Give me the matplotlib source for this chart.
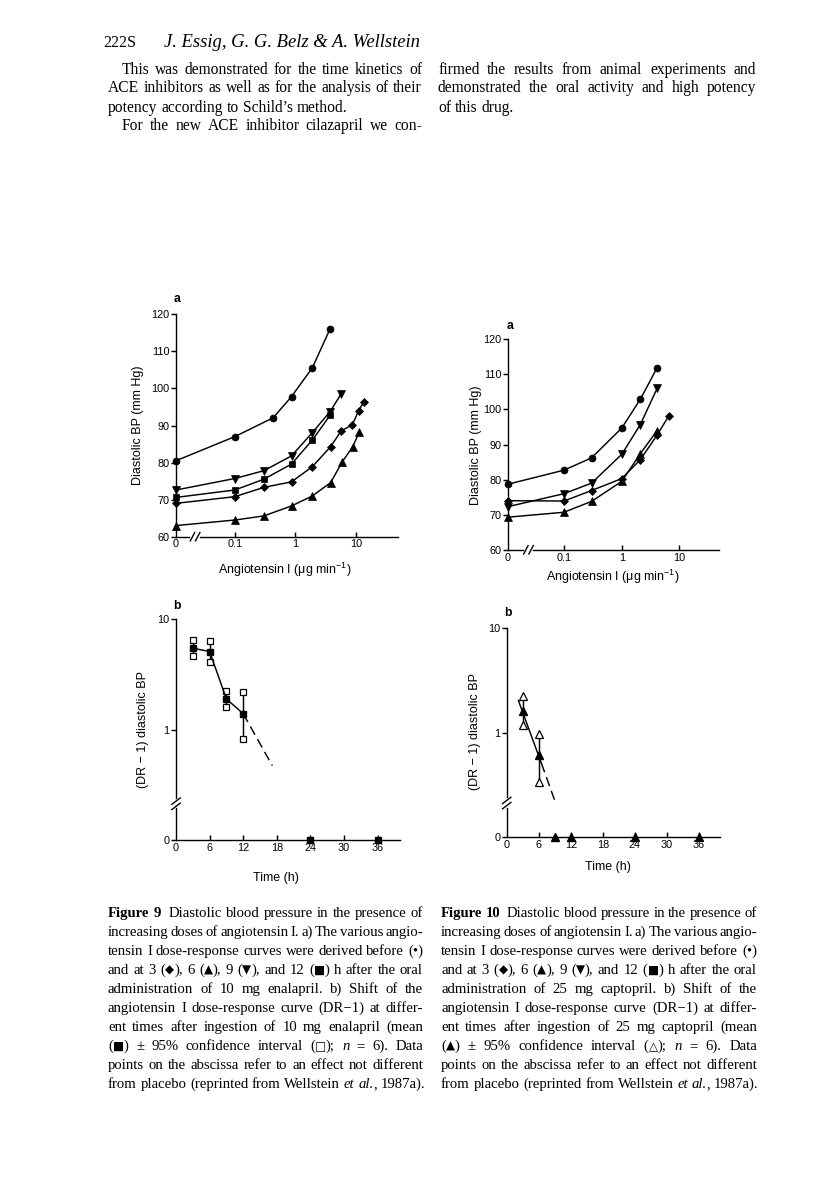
import re
import numpy as np
import matplotlib
matplotlib.use("Agg")
import matplotlib.pyplot as plt
from matplotlib.lines import Line2D
from matplotlib.ticker import NullLocator
from matplotlib.transforms import IdentityTransform
from matplotlib.font_manager import FontProperties

# ---------------------------------------------------------------- data
# Figure 9a (enalapril): angiotensin I dose (ug/min) vs diastolic BP (mm Hg)
f9a_before_dose = [0, 0.1, 0.43, 0.86, 1.9, 3.7]
f9a_before_bp = [80.5, 87.0, 92.1, 97.8, 105.6, 116.0]
f9a_3h_dose = [0, 0.1, 0.3, 0.86, 1.9, 3.8, 5.7, 8.6, 11.0, 13.3]
f9a_3h_bp = [69.0, 70.8, 73.3, 74.8, 78.9, 84.3, 88.6, 90.1, 94.0, 96.3]
f9a_6h_dose = [0, 0.1, 0.3, 0.86, 1.9, 3.8, 5.9, 8.8, 11.3]
f9a_6h_bp = [63.0, 64.5, 65.6, 68.3, 71.0, 74.6, 80.2, 84.3, 88.3]
f9a_9h_dose = [0, 0.1, 0.3, 0.86, 1.9, 3.7, 5.7]
f9a_9h_bp = [72.6, 75.7, 77.8, 81.8, 88.1, 93.7, 98.6]
f9a_12h_dose = [0, 0.1, 0.3, 0.86, 1.9, 3.7]
f9a_12h_bp = [70.6, 72.6, 75.5, 79.6, 86.1, 92.7]

# Figure 10a (captopril)
f10a_before_dose = [0, 0.1, 0.3, 1.0, 2.1, 4.1]
f10a_before_bp = [78.7, 82.7, 86.2, 94.7, 102.9, 111.9]
f10a_3h_dose = [0, 0.1, 0.3, 1.0, 2.1, 4.1, 6.5]
f10a_3h_bp = [74.0, 73.9, 76.9, 80.3, 85.7, 92.7, 98.1]
f10a_6h_dose = [0, 0.1, 0.3, 1.0, 2.1, 4.1]
f10a_6h_bp = [69.3, 70.7, 73.8, 79.5, 87.4, 94.0]
f10a_9h_dose = [0, 0.1, 0.3, 1.0, 2.1, 4.1]
f10a_9h_bp = [72.3, 76.0, 79.0, 87.2, 95.7, 106.0]

# Figure 9b: (DR-1) vs time after enalapril
f9b_time = [3, 6, 9, 12]
f9b_mean = [5.44, 5.08, 1.89, 1.39]
f9b_ci_low = [4.58, 4.07, 1.59, 0.82]
f9b_ci_high = [6.47, 6.34, 2.21, 2.20]
f9b_extrap_time = [12, 17.2]
f9b_extrap_val = [1.39, 0.47]
f9b_null_time = [24, 36]
f9b_null_val = [0, 0]

# Figure 10b: (DR-1) vs time after captopril
f10b_time = [3, 6]
f10b_mean = [1.61, 0.61]
f10b_ci_low = [1.18, 0.34]
f10b_ci_high = [2.25, 0.97]
f10b_fit_time = [2.2, 6.5]
f10b_fit_val = [2.03, 0.51]
f10b_extrap_time = [6.5, 9.2]
f10b_extrap_val = [0.51, 0.21]
f10b_null_time = [9, 12, 24, 36]
f10b_null_val = [0, 0, 0, 0]

# axis ticks
BP_TICKS = [60, 70, 80, 90, 100, 110, 120]
DOSE_TICKS = [0, 0.1, 1, 10]
DOSE_TICK_LABELS = ["0", "0.1", "1", "10"]
TIME_TICKS = [0, 6, 12, 18, 24, 30, 36]
DR_TICKS = [0, 1, 10]
DR_TICK_LABELS = ["0", "1", "10"]

# page text
HEADER_NUM = "222S"
HEADER_AUTHORS = "J. Essig, G. G. Belz & A. Wellstein"
BODY_LEFT = [
    "This was demonstrated for the time kinetics of",
    "ACE inhibitors as well as for the analysis of their",
    "potency according to Schild\u2019s method.",
    "For the new ACE inhibitor cilazapril we con-",
]
BODY_RIGHT = [
    "firmed the results from animal experiments and",
    "demonstrated the oral activity and high potency",
    "of this drug.",
]
CAPTION_9 = [
    "**Figure 9**  Diastolic blood pressure in the presence of",
    "increasing doses of angiotensin I. a) The various angio-",
    "tensin I dose-response curves were derived before (\u2022)",
    "and at 3 (\u25c6), 6 (\u25b2), 9 (\u25bc), and 12 (\u25a0) h after the oral",
    "administration of 10 mg enalapril. b) Shift of the",
    "angiotensin I dose-response curve (DR\u22121) at differ-",
    "ent times after ingestion of 10 mg enalapril (mean",
    "(\u25a0) \u00b1 95% confidence interval (\u25a1); _n_ = 6). Data",
    "points on the abscissa refer to an effect not different",
    "from placebo (reprinted from Wellstein _et al._, 1987a).",
]
CAPTION_10 = [
    "**Figure 10**  Diastolic blood pressure in the presence of",
    "increasing doses of angiotensin I. a) The various angio-",
    "tensin I dose-response curves were derived before (\u2022)",
    "and at 3 (\u25c6), 6 (\u25b2), 9 (\u25bc), and 12 (\u25a0) h after the oral",
    "administration of 25 mg captopril. b) Shift of the",
    "angiotensin I dose-response curve (DR\u22121) at differ-",
    "ent times after ingestion of 25 mg captopril (mean",
    "(\u25b2) \u00b1 95% confidence interval (\u25b3); _n_ = 6). Data",
    "points on the abscissa refer to an effect not different",
    "from placebo (reprinted from Wellstein _et al._, 1987a).",
]

# ---------------------------------------------------------------- setup
W, H, DPI = 816, 1181, 100
plt.rcParams["font.family"] = ["Liberation Sans", "DejaVu Sans"]
plt.rcParams["mathtext.fontset"] = "custom"
plt.rcParams["mathtext.rm"] = "Liberation Sans"
plt.rcParams["mathtext.it"] = "Liberation Sans:italic"
plt.rcParams["mathtext.bf"] = "Liberation Sans:bold"
plt.rcParams["axes.linewidth"] = 1.0

fig = plt.figure(figsize=(W / DPI, H / DPI), dpi=DPI)
fig.patch.set_facecolor("white")
renderer = fig.canvas.get_renderer()


def fx(px):
    return px / W


def fy(py):
    return 1 - py / H


def rect(left, right, top, bottom):
    return [fx(left), fy(bottom), (right - left) / W, (bottom - top) / H]


# broken log scales: value 0 sits about one decade left of / below the log part
DOSE_ZERO = -1.97
DOSE_MAX = 10 ** 1.69
VAL_ZERO = -1.0


def dose_fwd(x):
    x = np.asarray(x, dtype=float)
    lo = 10.0 ** DOSE_ZERO
    return np.where(x > lo, np.log10(np.maximum(x, lo)), DOSE_ZERO)


def dose_inv(v):
    v = np.asarray(v, dtype=float)
    return np.where(v > DOSE_ZERO, 10.0 ** v, 0.0)


def val_fwd(y):
    y = np.asarray(y, dtype=float)
    lo = 10.0 ** VAL_ZERO
    return np.where(y > lo, np.log10(np.maximum(y, lo)), VAL_ZERO)


def val_inv(v):
    v = np.asarray(v, dtype=float)
    return np.where(v > VAL_ZERO, 10.0 ** v, 0.0)


LW = 1.05
TICK_FS = 7.8
LABEL_FS = 9.0
MS = {"o": 5.0, "D": 4.5, "^": 5.6, "v": 5.6, "s": 4.6}
SANS1 = "Liberation Sans"


def style_axes(ax):
    for s in ("top", "right"):
        ax.spines[s].set_visible(False)
    ax.tick_params(axis="y", direction="out", length=3.4, width=LW,
                   labelsize=TICK_FS, pad=1.2)
    ax.tick_params(axis="x", direction="in", length=3.8, width=LW,
                   labelsize=TICK_FS, pad=2.0)
    ax.xaxis.set_minor_locator(NullLocator())
    ax.yaxis.set_minor_locator(NullLocator())
    ax.patch.set_alpha(0)
    ax.xaxis.get_major_ticks()[0].tick1line.set_visible(False)


def break_mark(ax, fx_, fy_, axis):
    X, Y = ax.transAxes.transform((fx_, fy_))
    tr = IdentityTransform()
    if axis == "x":
        fig.add_artist(Line2D([X - 2.6, X + 2.6], [Y, Y], transform=tr,
                              color="white", lw=2.6, zorder=5))
        for off in (-2.6, 2.6):
            fig.add_artist(Line2D([X + off - 2.2, X + off + 2.2], [Y - 4.2, Y + 4.2],
                                  transform=tr, color="k", lw=1.0, zorder=6))
    else:
        fig.add_artist(Line2D([X, X], [Y - 2.6, Y + 2.6], transform=tr,
                              color="white", lw=2.6, zorder=5))
        for off in (-2.6, 2.6):
            fig.add_artist(Line2D([X - 4.2, X + 4.2], [Y + off - 3.2, Y + off + 3.2],
                                  transform=tr, color="k", lw=1.0, zorder=6))


def panel_a(r, series, letter_xy, ylab_xy, xlab_xy, brk):
    ax = fig.add_axes(r)
    ax.set_xscale("function", functions=(dose_fwd, dose_inv))
    for dose, bp, mk in series:
        ax.plot(dose, bp, color="k", lw=LW, marker=mk, ms=MS[mk], mfc="k",
                mec="k", mew=0.5, clip_on=False, zorder=3)
    ax.set_xlim(0, DOSE_MAX)
    ax.set_ylim(60, 120)
    ax.set_yticks(BP_TICKS)
    ax.set_xticks(DOSE_TICKS, DOSE_TICK_LABELS)
    style_axes(ax)
    break_mark(ax, brk, 0, "x")
    fig.text(fx(letter_xy[0]), fy(letter_xy[1]), "a", fontsize=8.8,
             fontweight="bold", ha="center", va="center", family=SANS1)
    fig.text(fx(ylab_xy[0]), fy(ylab_xy[1]), "Diastolic BP (mm Hg)",
             fontsize=LABEL_FS, rotation=90, ha="center", va="center",
             family=SANS1)
    fig.text(fx(xlab_xy[0]), fy(xlab_xy[1]),
             "Angiotensin I (\u03bcg min$^{-1}$)", fontsize=LABEL_FS,
             ha="center", va="center", family=SANS1)
    return ax


def panel_b(r, t, mean, lo, hi, mk, connect_means, lines, null_t, null_v,
            letter_xy, ylab_xy, xlab_xy, brk):
    ax = fig.add_axes(r)
    ax.set_yscale("function", functions=(val_fwd, val_inv))
    ax.vlines(t, lo, hi, color="k", lw=LW, zorder=2)
    ax.plot(t, lo, ls="none", marker=mk, ms=MS[mk], mfc="white", mec="k",
            mew=0.9, zorder=3)
    ax.plot(t, hi, ls="none", marker=mk, ms=MS[mk], mfc="white", mec="k",
            mew=0.9, zorder=3)
    ax.plot(t, mean, ls="-" if connect_means else "none", color="k", lw=LW,
            marker=mk, ms=MS[mk], mfc="k", mec="k", zorder=4)
    for lt, lv, ls in lines:
        ax.plot(lt, lv, color="k", lw=LW, ls=ls, zorder=2)
    ax.plot(null_t, null_v, ls="none", marker=mk, ms=MS[mk], mfc="k",
            mec="k", clip_on=False, zorder=4)
    ax.set_xlim(0, 40)
    ax.set_ylim(0, 10)
    ax.set_xticks(TIME_TICKS)
    ax.set_yticks(DR_TICKS, DR_TICK_LABELS)
    style_axes(ax)
    break_mark(ax, 0, brk, "y")
    fig.text(fx(letter_xy[0]), fy(letter_xy[1]), "b", fontsize=8.8,
             fontweight="bold", ha="center", va="center", family=SANS1)
    fig.text(fx(ylab_xy[0]), fy(ylab_xy[1]), "(DR \u2212 1) diastolic BP",
             fontsize=LABEL_FS, rotation=90, ha="center", va="center",
             family=SANS1)
    fig.text(fx(xlab_xy[0]), fy(xlab_xy[1]), "Time (h)", fontsize=LABEL_FS,
             ha="center", va="center", family=SANS1)
    return ax


DASH = (0, (6.5, 3.5))

# Figure 9a
panel_a(rect(176, 398, 314.3, 536.7),
        [(f9a_before_dose, f9a_before_bp, "o"),
         (f9a_9h_dose, f9a_9h_bp, "v"),
         (f9a_12h_dose, f9a_12h_bp, "s"),
         (f9a_3h_dose, f9a_3h_bp, "D"),
         (f9a_6h_dose, f9a_6h_bp, "^")],
        (177, 299), (138, 425), (285, 570), 0.086)

# Figure 10a
panel_a(rect(508, 719.3, 339.3, 549.8),
        [(f10a_before_dose, f10a_before_bp, "o"),
         (f10a_9h_dose, f10a_9h_bp, "v"),
         (f10a_3h_dose, f10a_3h_bp, "D"),
         (f10a_6h_dose, f10a_6h_bp, "^")],
        (510, 326), (476, 445), (613, 577), 0.097)

# Figure 9b
panel_b(rect(176, 400, 619, 840), f9b_time, f9b_mean, f9b_ci_low, f9b_ci_high,
        "s", True, [(f9b_extrap_time, f9b_extrap_val, DASH)],
        f9b_null_time, f9b_null_val, (177, 606), (143, 730), (276, 878), 0.164)

# Figure 10b
panel_b(rect(506.7, 720.4, 628.3, 837.3), f10b_time, f10b_mean, f10b_ci_low,
        f10b_ci_high, "^", False,
        [(f10b_fit_time, f10b_fit_val, "-"),
         (f10b_extrap_time, f10b_extrap_val, DASH)],
        f10b_null_time, f10b_null_val, (508, 613), (475, 732), (608, 867), 0.164)


# ---------------------------------------------------------------- page text
SYMBOLS = set("\u25c6\u25b2\u25bc\u25a0\u25a1\u25b3")


def fprop(style, size):
    if style == "sym":
        return FontProperties(family="DejaVu Sans", size=size * 0.8)
    return FontProperties(family="Liberation Serif", size=size,
                          weight="bold" if style == "b" else "normal",
                          style="italic" if style == "i" else "normal")


def seg_width(text, prop):
    t = fig.text(0, 0, text, fontproperties=prop)
    w = t.get_window_extent(renderer=renderer).width
    t.remove()
    return w


def split_symbols(text, st):
    out = []
    for piece in re.split("([" + "".join(SYMBOLS) + "])", text):
        if not piece:
            continue
        out.append((piece, "sym" if piece in SYMBOLS else st))
    return out


def parse(line):
    segs = []
    for part in re.split(r"(\*\*.+?\*\*|_.+?_)", line):
        if not part:
            continue
        if part.startswith("**"):
            segs.extend(split_symbols(part[2:-2], "b"))
        elif part.startswith("_") and part.endswith("_") and len(part) > 1:
            segs.extend(split_symbols(part[1:-1], "i"))
        else:
            segs.extend(split_symbols(part, "r"))
    words, weights, cur, pending = [], [], [], 0
    for text, st in segs:
        for piece in re.split(r"( )", text):
            if piece == " ":
                if cur:
                    words.append(cur)
                    cur = []
                    pending = 1
                elif words:
                    pending += 1
            elif piece:
                if not cur and words:
                    weights.append(pending)
                    pending = 0
                cur.append((piece, st))
    if cur:
        words.append(cur)
    return words, weights


MIN_SPACE = 0.16


def natural_width(line, size):
    words, weights = parse(line)
    tot = sum(seg_width(s, fprop(st, size)) for w in words for s, st in w)
    return tot + sum(weights) * MIN_SPACE * size * DPI / 72


def draw_line(line, x0, x1, ybase, size, justify):
    words, weights = parse(line)
    widths = [[seg_width(s, fprop(st, size)) for s, st in w] for w in words]
    total = sum(sum(a) for a in widths)
    if justify and weights:
        unit = (x1 - x0 - total) / sum(weights)
    else:
        unit = 0.25 * size * DPI / 72
    x = x0
    for i, (w, ws) in enumerate(zip(words, widths)):
        for (s, st), sw in zip(w, ws):
            fig.text(fx(x), fy(ybase), s, fontproperties=fprop(st, size),
                     ha="left", va="baseline")
            x += sw
        if i < len(weights):
            x += unit * weights[i]


def fit_size(lines, widths, s0):
    ratio = min(wd / natural_width(l, s0) for l, wd in zip(lines, widths))
    return s0 * min(1.0, ratio)


def paragraph(lines, x0, x1, y0, step, s0, indents, ragged):
    widths = [x1 - x0 - indents.get(i, 0) for i in range(len(lines))]
    just = [i for i in range(len(lines)) if i not in ragged]
    size = fit_size([lines[i] for i in just], [widths[i] for i in just], s0)
    for i, line in enumerate(lines):
        draw_line(line, x0 + indents.get(i, 0), x1, y0 + i * step, size,
                  i not in ragged)


def fitted_text(text, x0, x1, ybase, style, s0):
    w = seg_width(text, fprop(style, s0))
    size = s0 * (x1 - x0) / w
    fig.text(fx(x0), fy(ybase), text, fontproperties=fprop(style, size),
             ha="left", va="baseline")


fitted_text(HEADER_NUM, 103, 136, 47, "r", 11)
fitted_text(HEADER_AUTHORS, 164, 421, 47, "i", 11)

STEP = 19.0
paragraph(BODY_LEFT, 108, 422, 73.5, STEP, 11.2, {0: 14, 3: 14}, {2})
paragraph(BODY_RIGHT, 438, 756, 73.5, STEP, 11.2, {}, {2})

paragraph(CAPTION_9, 108, 423, 917, STEP, 11.0, {}, {9})
paragraph(CAPTION_10, 441, 757, 917, STEP, 11.0, {}, {9})

fig.savefig("out.png", dpi=DPI, facecolor="white")
